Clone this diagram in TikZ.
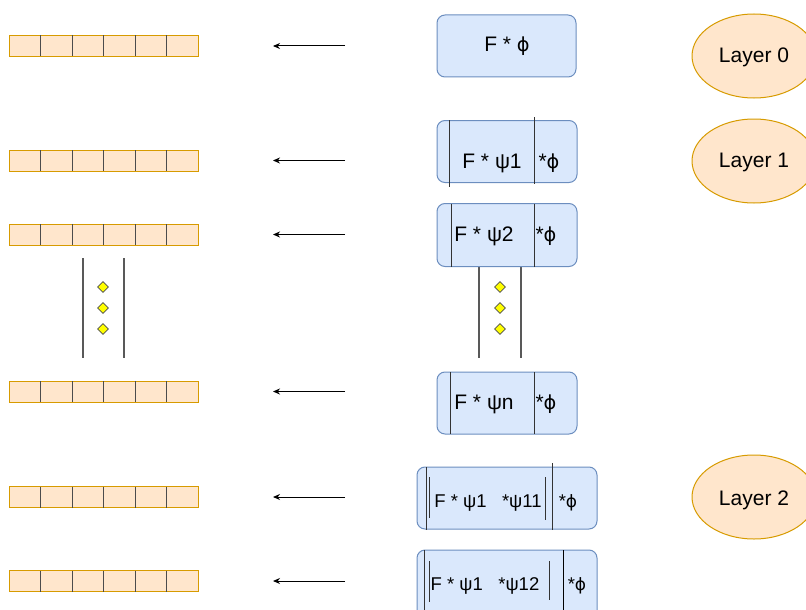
\documentclass[tikz,border=0pt]{standalone}
\usepackage{fontspec}
\setmainfont{Liberation Sans}
\newfontfamily\phifont[Scale=0.92]{DejaVu Sans}
\newcommand{\varphisym}{{\phifont ϕ}}
\usetikzlibrary{shapes.geometric,arrows.meta}
\definecolor{arrfill}{HTML}{FFE6CC}
\definecolor{arrline}{HTML}{D79B00}
\definecolor{boxfill}{HTML}{DAE8FC}
\definecolor{boxline}{HTML}{6C8EBF}
\definecolor{dotfill}{HTML}{FFFF00}
\definecolor{sepline}{HTML}{333333}

\begin{document}
\begin{tikzpicture}[x=1pt,y=-1pt,
  cellrow/.style={draw=arrline,fill=arrfill,line width=1pt,minimum width=189pt,minimum height=21pt,inner sep=0pt},
  cellsep/.style={draw=black!70,line width=1pt},
  bluebox/.style={draw=boxline,fill=boxfill,line width=1pt,rounded corners=8pt,inner sep=0pt},
  layer/.style={ellipse,draw=arrline,fill=arrfill,line width=1pt,minimum width=124pt,minimum height=84pt,inner sep=0pt},
  lbl/.style={font=\fontsize{21}{25}\selectfont,inner sep=0pt,anchor=base},
  slbl/.style={font=\fontsize{18.5}{22}\selectfont,inner sep=0pt,anchor=base},
  divider/.style={draw=sepline,line width=1pt},
  rail/.style={draw=black!65,line width=1.2pt},
  dot/.style={diamond,draw=black!70,fill=dotfill,line width=0.8pt,minimum width=11pt,minimum height=11pt,inner sep=0pt},
  flow/.style={draw=black,line width=1pt,-{Stealth[length=7pt,width=6pt]}}
]
\useasboundingbox (0,0) rectangle (806,610);

% arrays of cells on the left
\foreach \r/\y in {r0/46,r1/160.5,r2/234.5,r3/391.5,r4/497,r5/581}{
  \node[cellrow] (\r) at (103.5,\y) {};
  \foreach \i in {1,...,5}{
    \draw[cellsep] (9+31.5*\i,\y-10.5) -- (9+31.5*\i,\y+10.5);
  }
}

% arrows pointing to the arrays
\foreach \n/\y in {0/46,1/160.5,2/234.5,3/391.5,4/497,5/581}{
  \coordinate (s\n) at (345,\y);
  \coordinate (t\n) at (273,\y);
  \draw[flow] (s\n) -- (t\n);
}

% ellipsis on the left
\draw[rail] (83,258) -- (83,358);
\draw[rail] (124,258) -- (124,358);
\node[dot] (ld1) at (103,287) {};
\node[dot] (ld2) at (103,308) {};
\node[dot] (ld3) at (103,329) {};

% ellipsis on the right
\draw[rail] (479,267) -- (479,358);
\draw[rail] (521,267) -- (521,358);
\node[dot] (rd1) at (500,287) {};
\node[dot] (rd2) at (500,308) {};
\node[dot] (rd3) at (500,329) {};

% layer 0
\node[bluebox,minimum width=139pt,minimum height=62pt] (b0) at (506.5,46) {};
\node[lbl] (b0t) at (507,52) {F * \varphisym};

% layer 1
\node[bluebox,minimum width=140pt,minimum height=62pt] (b1) at (507,151.5) {};
\draw[divider] (449,120) -- (449,187);
\draw[divider] (534,117) -- (534,184);
\node[lbl] (b1t) at (492,168) {F * ψ1};
\node[lbl] (b1p) at (549,168) {*\varphisym};

\node[bluebox,minimum width=140pt,minimum height=63pt] (b2) at (507,235) {};
\draw[divider] (451,203.5) -- (451,266.5);
\draw[divider] (534,203.5) -- (534,266.5);
\node[lbl] (b2t) at (484,241) {F * ψ2};
\node[lbl] (b2p) at (546,241) {*\varphisym};

\node[bluebox,minimum width=140pt,minimum height=62pt] (bn) at (507,403) {};
\draw[divider] (450,372) -- (450,434);
\draw[divider] (534,372) -- (534,434);
\node[lbl] (bnt) at (484,409) {F * ψn};
\node[lbl] (bnp) at (546,409) {*\varphisym};

% layer 2
\node[bluebox,minimum width=180pt,minimum height=62pt] (c1) at (507,498) {};
\draw[divider] (426,467) -- (426,530);
\draw[divider] (429,477) -- (429,518);
\draw[divider] (545,477) -- (545,520);
\draw[divider] (552,463) -- (552,530);
\node[slbl] (c1t) at (488,507) {F * ψ1 \ \ *ψ11};
\node[slbl] (c1p) at (568,507) {*\varphisym};

\node[bluebox,minimum width=180pt,minimum height=70pt] (c2) at (507,585) {};
\draw[divider] (424,550) -- (424,612);
\draw[divider] (429,561) -- (429,602);
\draw[divider] (549,561) -- (549,600);
\draw[divider,black] (563,550) -- (563,612);
\node[slbl] (c2t) at (485,590) {F * ψ1 \ \ *ψ12};
\node[slbl] (c2p) at (577,590) {*\varphisym};

% layer labels
\node[layer] (l0) at (754,56) {};
\node[lbl] (l0t) at (754,63) {Layer 0};
\node[layer] (l1) at (754,161) {};
\node[lbl] (l1t) at (754,167) {Layer 1};
\node[layer] (l2) at (754,497) {};
\node[lbl] (l2t) at (754,505) {Layer 2};
\end{tikzpicture}
\end{document}
